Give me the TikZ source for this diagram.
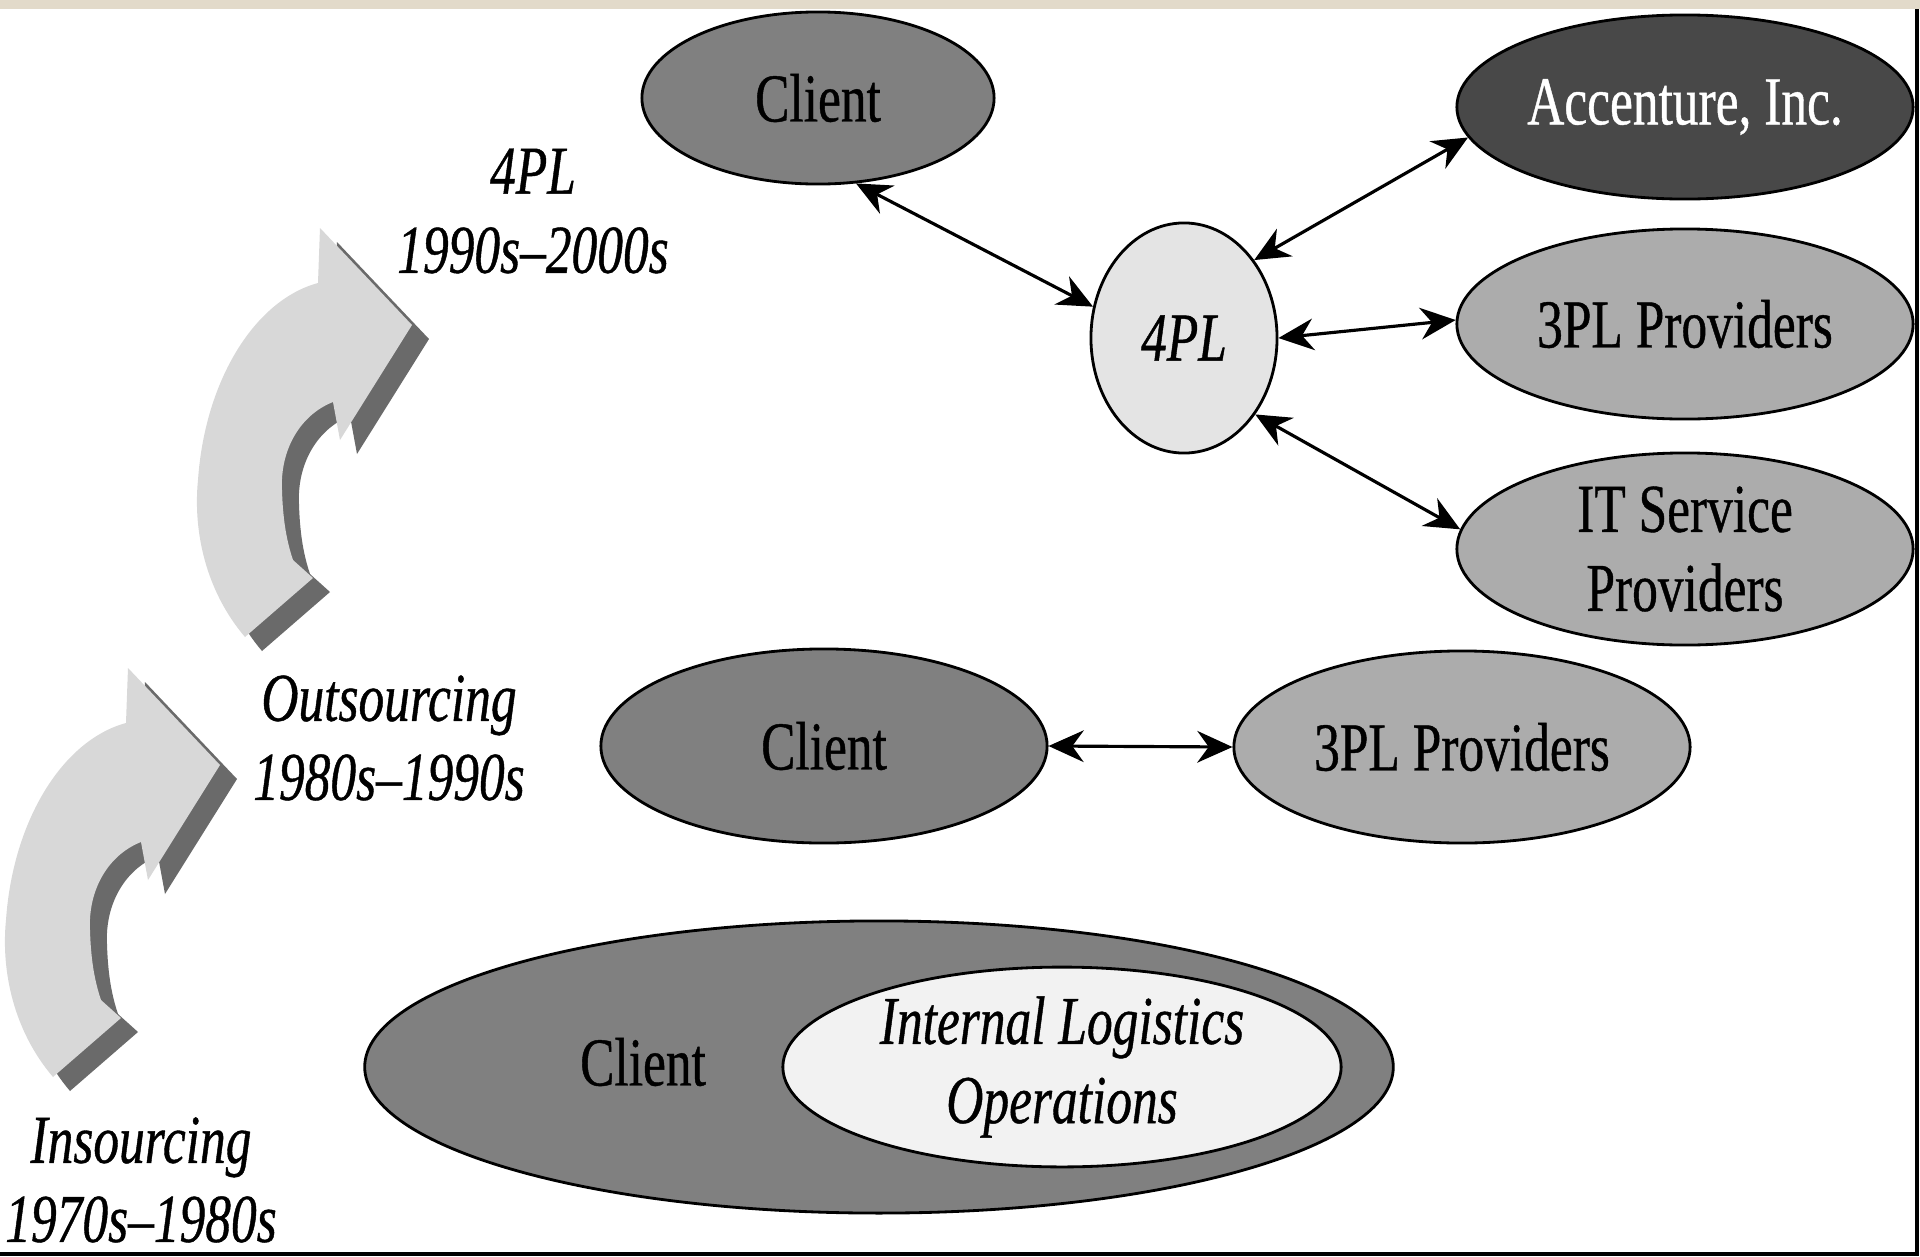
\documentclass[tikz,border=0pt]{standalone}
\usepackage{fontspec}
\setmainfont{Liberation Serif}[FakeStretch=0.75, FakeBold=0.6]
\usepackage{tikz}
\usetikzlibrary{shapes.geometric, arrows.meta}
\definecolor{clientgray}{RGB}{128,128,128}
\definecolor{accgray}{RGB}{72,72,72}
\definecolor{provgray}{RGB}{172,172,172}
\definecolor{fourplgray}{RGB}{228,228,228}
\definecolor{internalgray}{RGB}{242,242,242}
\definecolor{arrowlight}{RGB}{216,216,216}
\definecolor{arrowdark}{RGB}{106,106,106}
\definecolor{paperbeige}{RGB}{226,218,202}

\tikzset{
  turnarrow/.pic={
    \foreach \dx/\dy/\col in {17/14/arrowdark, 0/0/arrowlight}
      \fill[\col, shift={(\dx,\dy)}] (245,637) .. controls (205,590) and (193,530) .. (198,480)
        .. controls (205,380) and (255,300) .. (318,283) -- (320,228) -- (412,325) -- (340,440)
        -- (333,402) .. controls (300,415) and (280,450) .. (282,490)
        .. controls (283,525) and (288,545) .. (293,560) -- (313,578) -- cycle;
  }
}

\begin{document}
\begin{tikzpicture}[x=0.01cm, y=-0.01cm,
  ell/.style={ellipse, draw=black, line width=0.8pt, inner sep=0pt, align=center,
    font=\fontsize{19.5}{22.5}\selectfont},
  era/.style={align=center, inner sep=0pt, font=\fontsize{19.5}{22.5}\selectfont\itshape},
  link/.style={{Stealth[length=10pt,width=9pt]}-{Stealth[length=10pt,width=9pt]}, line width=0.9pt}]
\useasboundingbox (0,0) rectangle (1920,1257);
\fill[white] (0,0) rectangle (1920,1257);
\fill[paperbeige] (0,0) rectangle (1920,9);

% Bent arrows
\pic at (0,0) {turnarrow};
\pic at (-192,440) {turnarrow};

% 4PL level
\node[ell, fill=clientgray, minimum width=3.52cm, minimum height=1.72cm] (clientA) at (818,98) {Client};
\node[ell, fill=accgray, text=white, minimum width=4.56cm, minimum height=1.84cm] (accenture) at (1685,107) {Accenture, Inc.};
\node[ell, fill=provgray, minimum width=4.56cm, minimum height=1.9cm] (threeplA) at (1685,324) {3PL Providers};
\node[ell, fill=provgray, minimum width=4.56cm, minimum height=1.92cm] (itserv) at (1685,549) {IT Service\\Providers};
\node[ell, fill=fourplgray, minimum width=1.86cm, minimum height=2.3cm, font=\fontsize{19.5}{22.5}\selectfont\itshape] (fourpl) at (1184,338) {4PL};

% Outsourcing level
\node[ell, fill=clientgray, minimum width=4.46cm, minimum height=1.94cm] (clientB) at (824,746) {Client};
\node[ell, fill=provgray, minimum width=4.56cm, minimum height=1.92cm] (threeplB) at (1462,747) {3PL Providers};

% Insourcing level
\node[ell, fill=clientgray, minimum width=10.28cm, minimum height=2.92cm] (clientC) at (879,1067) {};
\node[ell, fill=internalgray, minimum width=5.58cm, minimum height=1.98cm, font=\fontsize{19.5}{22.5}\selectfont\itshape] (internal) at (1062,1067) {Internal Logistics\\Operations};
\node[font=\fontsize{19.5}{22.5}\selectfont] (clientCtext) at (643,1062) {Client};

% Edges
\draw[link] (clientA.-66) -- (fourpl.161);
\draw[link] (fourpl.48) -- (accenture.188);
\draw[link] (fourpl.east) -- (threeplA.179.4);
\draw[link] (fourpl.-47) -- (itserv.175);
\draw[link] (clientB.east) -- (threeplB.west);

% Era labels
\node[era] (era4pl) at (533,211) {4PL\\1990s--2000s};
\node[era] (eraout) at (389,738) {Outsourcing\\1980s--1990s};
\node[era] (erain) at (141,1180) {Insourcing\\1970s--1980s};

% Frame
\draw[line width=0.04cm] (0,1254) -- (1917,1254) -- (1917,9);
\end{tikzpicture}
\end{document}
